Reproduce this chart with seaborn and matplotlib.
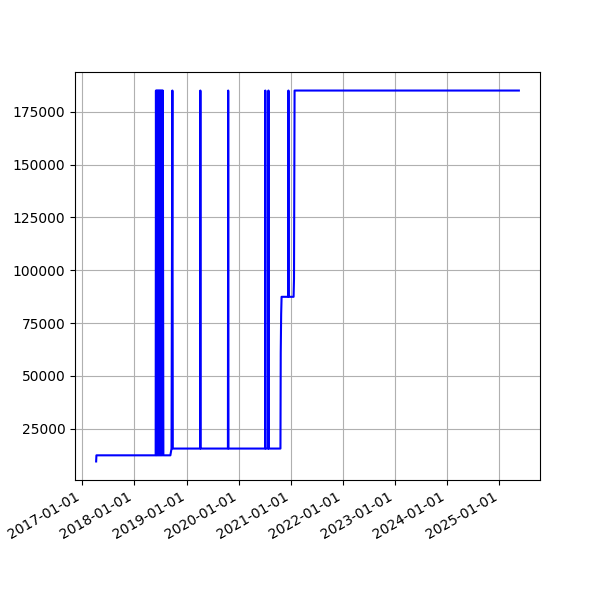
import pandas as pd
import matplotlib
matplotlib.use("Agg")
import matplotlib.pyplot as plt
import matplotlib.dates as mdates
import seaborn as sns

# value levels
HI = 185000
LO1 = 12400
LO2 = 15600
MID = 87400

dates = [
    "2017-04-08", "2017-04-10", "2018-05-30",
    "2018-06-01", "2018-06-04", "2018-06-07", "2018-06-10", "2018-06-13",
    "2018-06-16", "2018-06-19", "2018-06-22", "2018-06-25", "2018-06-28",
    "2018-07-01", "2018-07-04", "2018-07-07", "2018-07-10", "2018-07-13",
    "2018-07-16", "2018-07-19", "2018-07-23",
    "2018-09-10", "2018-09-18", "2018-09-24", "2018-09-27",
    "2019-04-06", "2019-04-08", "2019-04-10",
    "2019-10-18", "2019-10-20", "2019-10-22",
    "2020-07-04", "2020-07-06", "2020-07-08",
    "2020-07-26", "2020-07-28", "2020-07-30",
    "2020-10-20", "2020-10-22", "2020-10-25", "2020-10-28",
    "2020-12-13", "2020-12-15", "2020-12-17",
    "2021-01-20", "2021-01-23", "2021-01-27",
    "2025-05-17",
]
values = [
    9500, LO1, LO1,
    HI, LO1, HI, LO1, HI,
    LO1, HI, LO1, HI, LO1,
    HI, LO1, HI, LO1, HI,
    LO1, HI, LO1,
    LO1, LO2, HI, LO2,
    LO2, HI, LO2,
    LO2, HI, LO2,
    LO2, HI, LO2,
    LO2, HI, LO2,
    LO2, 60800, 79200, MID,
    MID, HI, MID,
    MID, 96000, HI,
    HI,
]

df = pd.DataFrame({"date": pd.to_datetime(dates), "value": values})

fig, ax = plt.subplots(figsize=(6, 6), dpi=100)
sns.lineplot(data=df, x="date", y="value", color="blue", linewidth=1.5,
             estimator=None, ax=ax)
ax.set_xlabel("")
ax.set_ylabel("")
ax.xaxis.set_major_locator(mdates.YearLocator())
ax.xaxis.set_major_formatter(mdates.DateFormatter("%Y-%m-%d"))
ax.grid(True)
fig.autofmt_xdate()
fig.savefig("out.png", dpi=100)
